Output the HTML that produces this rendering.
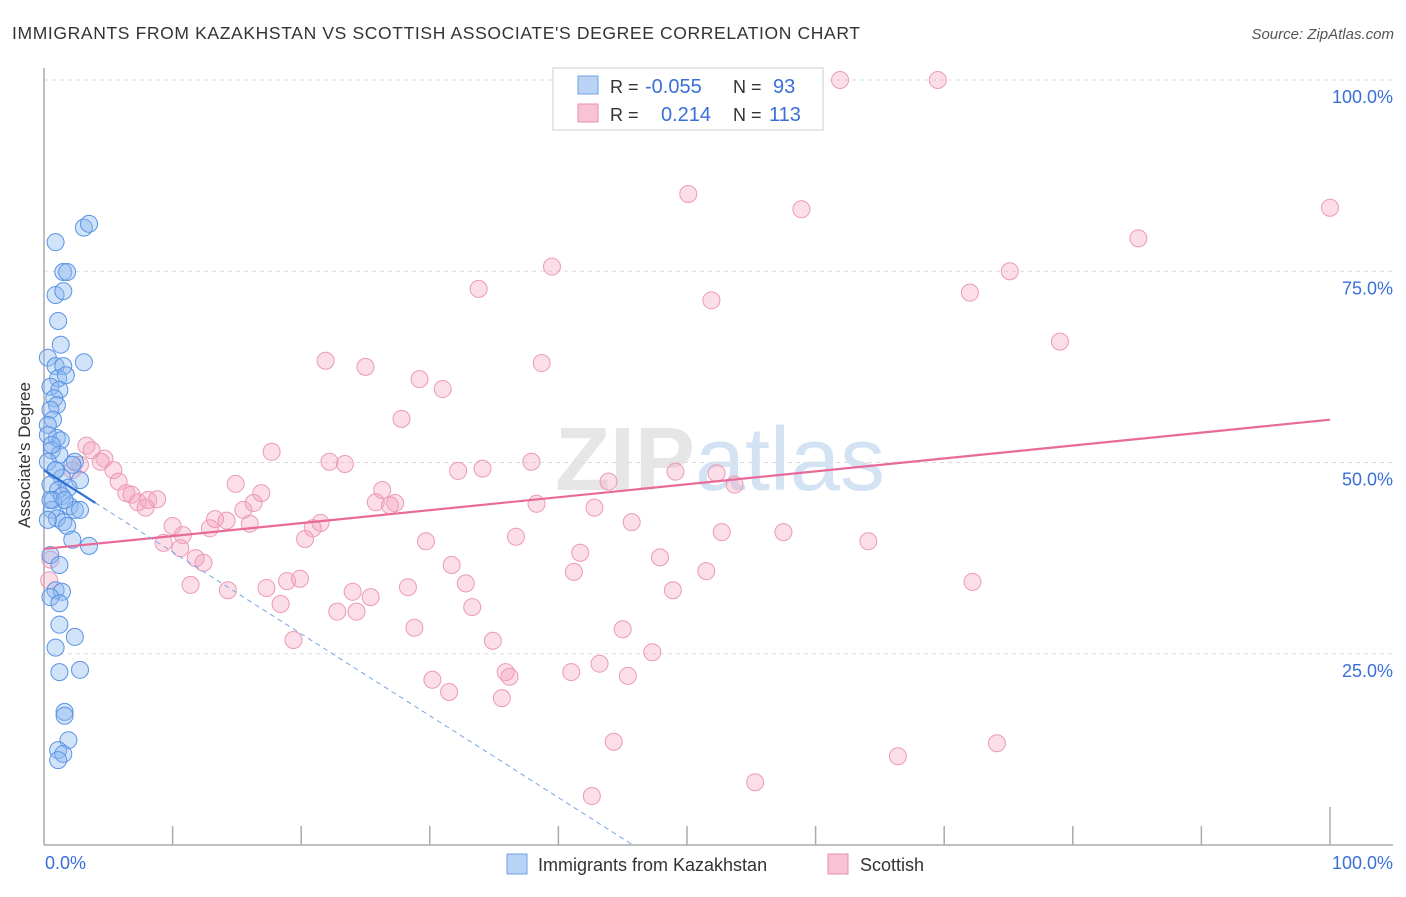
<!DOCTYPE html>
<html><head><meta charset="utf-8"><style>
body{margin:0;background:#fff;font-family:"Liberation Sans",sans-serif;}
</style></head><body>
<svg width="1406" height="892" xmlns="http://www.w3.org/2000/svg" font-family="Liberation Sans, sans-serif">
<text x="12" y="39" font-size="17.5" fill="#333" textLength="848" lengthAdjust="spacing">IMMIGRANTS FROM KAZAKHSTAN VS SCOTTISH ASSOCIATE'S DEGREE CORRELATION CHART</text>
<text x="1394" y="39" font-size="15" fill="#555" font-style="italic" text-anchor="end">Source: ZipAtlas.com</text>
<text x="720" y="490" font-size="90" fill="#e6e6e6" text-anchor="middle" font-weight="bold">ZIP<tspan fill="#d4e3f3" font-weight="normal">atlas</tspan></text>
<g id="grid"></g>
<line x1="44" y1="68" x2="44" y2="845" stroke="#aaa" stroke-width="1.5"/>
<line x1="44" y1="845" x2="1393" y2="845" stroke="#aaa" stroke-width="1.5"/>
<g id="ticks"></g>
<text x="30" y="455" font-size="17" fill="#333" text-anchor="middle" transform="rotate(-90 30 455)">Associate's Degree</text>
<text x="45" y="869" font-size="18" fill="#3a6fd8">0.0%</text>
<text x="1393" y="869" font-size="18" fill="#3a6fd8" text-anchor="end">100.0%</text>
<g id="pts"></g>
<g id="lines"></g>
<g>
<rect x="553" y="68" width="270" height="62" fill="#fff" stroke="#ccc"/>
<rect x="578" y="76" width="20" height="18" fill="#b9d3f5" stroke="#6fa0e6"/>
<rect x="578" y="104" width="20" height="18" fill="#f8c4d5" stroke="#ea8fae"/>
<text x="610" y="93" font-size="18" fill="#333">R = <tspan fill="#3a6fd8" x="645" font-size="20">-0.055</tspan></text>
<text x="733" y="93" font-size="18" fill="#333">N = <tspan fill="#3a6fd8" x="773" font-size="20">93</tspan></text>
<text x="610" y="121" font-size="18" fill="#333">R = <tspan fill="#3a6fd8" x="661" font-size="20">0.214</tspan></text>
<text x="733" y="121" font-size="18" fill="#333">N = <tspan fill="#3a6fd8" x="769" font-size="20">113</tspan></text>
</g>
<g>
<rect x="507" y="854" width="20" height="20" fill="#b9d3f5" stroke="#6fa0e6"/>
<text x="538" y="871" font-size="18" fill="#333">Immigrants from Kazakhstan</text>
<rect x="828" y="854" width="20" height="20" fill="#f8c4d5" stroke="#ea8fae"/>
<text x="860" y="871" font-size="18" fill="#333">Scottish</text>
</g>
</svg>
<script>
const yTicks=[25,50,75,100];
const yTickLabels=["25.0%","50.0%","75.0%","100.0%"];
const xTicks=[10,20,30,40,50,60,70,80,90,100];
const blueX=[0.9,3.1,3.5,1.5,1.8,0.9,1.5,1.1,1.3,3.1,0.3,0.9,1.5,1.1,1.7,0.5,1.2,0.8,1.0,0.5,0.7,0.3,1.0,0.3,1.3,0.6,1.2,0.3,2.4,0.9,2.2,1.4,2.8,0.5,1.1,1.9,0.7,1.4,2.0,0.6,2.4,2.8,1.0,1.5,1.8,2.2,3.5,0.5,1.2,0.9,1.4,0.5,1.2,1.2,2.4,0.9,1.2,2.8,1.6,1.6,1.9,1.1,1.5,1.1,0.5,0.3,0.9,0.6,1.6];
const blueY=[78.8,80.7,81.2,74.9,74.9,71.9,72.4,68.5,65.4,63.1,63.7,62.6,62.6,61.0,61.4,59.9,59.5,58.4,57.5,56.9,55.6,54.9,53.2,53.6,52.9,51.6,51.0,50.1,50.1,49.0,49.7,48.0,47.7,47.1,46.4,46.7,45.1,45.6,44.3,43.8,43.8,43.8,42.7,42.2,41.7,39.9,39.1,37.9,36.6,33.3,33.1,32.4,31.6,28.8,27.2,25.8,22.6,22.9,17.4,16.9,13.7,12.4,11.9,11.1,45.1,42.5,49.0,52.3,45.1];
const pinkX=[61.9,69.5,50.1,100,58.9,85.1,39.5,75.1,33.8,72.0,51.9,79.0,21.9,25.0,38.7,29.2,31.0,27.8,17.7,22.2,23.4,37.9,32.2,34.1,49.1,52.3,53.7,43.9,3.3,3.7,4.7,4.4,5.4,2.8,2.2,5.8,6.4,6.8,7.3,8.1,8.8,7.9,14.9,16.9,16.3,15.5,26.3,25.8,27.3,26.9,38.3,42.8,10.0,10.8,13.3,12.9,14.2,16.0,21.5,20.9,20.3,9.3,10.6,11.8,12.4,11.4,14.3,17.3,18.9,19.9,18.4,22.8,24.3,24.0,25.4,28.3,29.7,31.7,32.8,33.3,36.7,41.7,41.2,45.7,47.9,51.5,52.7,57.5,64.1,72.2,48.9,28.8,34.9,45.0,47.3,19.4,30.2,31.5,35.9,36.2,41.0,43.2,45.4,35.6,44.3,42.6,55.3,66.4,74.1,0.4,0.5];
const pinkY=[100,100,85.1,83.3,83.1,79.3,75.6,75.0,72.7,72.2,71.2,65.8,63.3,62.5,63.0,60.9,59.6,55.7,51.4,50.1,49.8,50.1,48.9,49.2,48.8,48.6,47.1,47.5,52.2,51.6,50.5,50.1,49.0,49.7,49.0,47.5,46.0,45.8,44.8,45.1,45.2,44.1,47.2,46.0,44.7,43.8,46.4,44.8,44.7,44.4,44.6,44.1,41.7,40.5,42.6,41.4,42.4,42.0,42.1,41.4,40.0,39.5,38.8,37.5,36.9,34.0,33.3,33.6,34.5,34.8,31.5,30.5,30.5,33.1,32.4,33.7,39.7,36.6,34.2,31.1,40.3,38.2,35.7,42.2,37.6,35.8,40.9,40.9,39.7,34.4,33.3,28.4,26.7,28.2,25.2,26.8,21.6,20.0,22.6,22.0,22.6,23.7,22.1,19.2,13.5,6.4,8.2,11.6,13.3,34.6,37.3];
const pinkTrend=[38.7,55.6];
const blueTrend=[49.0,-1.07];
const NS="http://www.w3.org/2000/svg";
const sx=v=>44+v*12.86, sy=v=>845-v*7.65;
function mk(tag,attrs,parent){const e=document.createElementNS(NS,tag);for(const k in attrs)e.setAttribute(k,attrs[k]);document.getElementById(parent).appendChild(e);return e;}
yTicks.forEach((t,i)=>{
  const l=mk('line',{x1:44,x2:1393,y1:sy(t),y2:sy(t),stroke:'#ddd','stroke-dasharray':'4,4'},'grid');
  
  
  const tx=mk('text',{x:1393,y:sy(t)+23,'font-size':18,fill:'#3a6fd8','text-anchor':'end'},'grid');
  tx.textContent=yTickLabels[i];
  
  
});
xTicks.forEach(t=>{
  const l=mk('line',{x1:sx(t),x2:sx(t),y1:t==100?807:826,y2:845,stroke:'#aaa','stroke-width':1.5},'ticks');
  
  
});
pinkX.forEach((x,i)=>{
  const c=mk('circle',{cx:sx(x),cy:sy(pinkY[i]),r:8.5,fill:'rgba(244,160,190,0.35)',stroke:'#ec9ab6','stroke-width':1},'pts');
  
  
});
blueX.forEach((x,i)=>{
  const c=mk('circle',{cx:sx(x),cy:sy(blueY[i]),r:8.5,fill:'rgba(140,185,240,0.4)',stroke:'#5b93e3','stroke-width':1},'pts');
  
  
});
const pl=mk('line',{x1:sx(0),y1:sy(pinkTrend[0]),x2:sx(100),y2:sy(pinkTrend[1]),stroke:'#e86a98','stroke-width':2.2},'lines');


const bEnd=-blueTrend[0]/blueTrend[1];
const bd=mk('line',{x1:sx(4),y1:sy(blueTrend[0]+blueTrend[1]*4),x2:sx(bEnd),y2:sy(0),stroke:'#7aa6e6','stroke-width':1,'stroke-dasharray':'5,4'},'lines');


const bl=mk('line',{x1:sx(0),y1:sy(blueTrend[0]),x2:sx(4),y2:sy(blueTrend[0]+blueTrend[1]*4),stroke:'#2f6fd6','stroke-width':2.2},'lines');


</script>
</body></html>
